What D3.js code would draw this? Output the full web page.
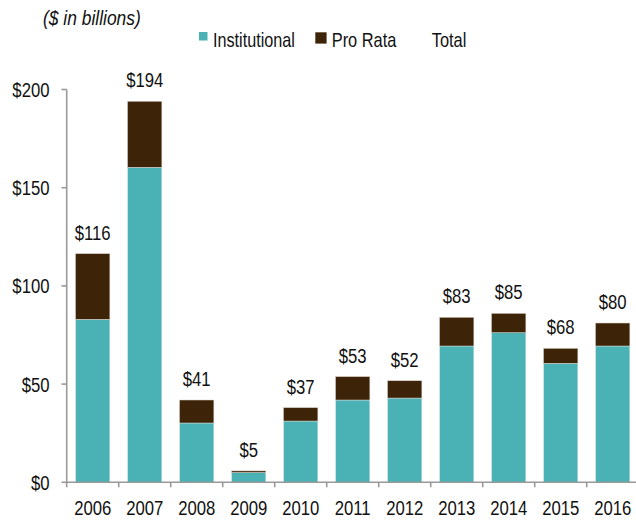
<!DOCTYPE html>
<html><head><meta charset="utf-8">
<script src="https://cdn.jsdelivr.net/npm/d3@7"></script>
<style>body{margin:0;background:#fff}svg{display:block}text{font-family:"Liberation Sans",Arial,sans-serif;fill:#111}</style>
</head><body><div id="c"></div>
<script>
const years = ["2006","2007","2008","2009","2010","2011","2012","2013","2014","2015","2016"];
const institutional = [83.0,160.4,30.2,5.0,31.2,41.9,42.9,69.4,76.2,60.6,69.4];
const proRata = [33.4,33.6,11.7,0.8,6.8,11.9,8.8,14.6,9.8,7.6,11.7];
const totalLabels = ["$116","$194","$41","$5","$37","$53","$52","$83","$85","$68","$80"];
const yTicks = [0,50,100,150,200];
const yTickLabels = ["$0","$50","$100","$150","$200"];

const W=636,H=523;
const teal="#4AB1B4", brown="#3D2408", axisCol="#999";
const svg=d3.select("#c").append("svg").attr("width",W).attr("height",H);
const x=d3.scaleBand().domain(years).range([66.7,638.7]).paddingInner(0.34).paddingOuter(0.17);
const y=d3.scaleLinear().domain([0,200]).range([482.3,89.5]);
const SX=0.815, FS=20.5;
function txt(t,px,py,anchor,opts={}){
  const e=svg.append("text").attr("transform",`translate(${px},${py}) scale(${opts.sx||SX},1)`)
    .attr("text-anchor",anchor).style("font-size",(opts.fs||FS)+"px").text(t);
  if(opts.italic) e.style("font-style","italic");
  return e;
}
// bars
const g=svg.append("g");
years.forEach((yr,i)=>{
  const a=institutional[i], b=proRata[i];
  g.append("rect").attr("x",x(yr)).attr("width",x.bandwidth()).attr("y",y(a)).attr("height",y(0)-y(a))
    .attr("fill",teal).attr("stroke","#e6f2f2").attr("stroke-width",0.5);
  g.append("rect").attr("x",x(yr)).attr("width",x.bandwidth()).attr("y",y(a+b)).attr("height",y(a)-y(a+b))
    .attr("fill",brown).attr("stroke","#d8d0c8").attr("stroke-width",0.5);
  txt(totalLabels[i], x(yr)+x.bandwidth()/2, y(a+b)-14, "middle");
});
// y axis
svg.append("line").attr("x1",66.7).attr("x2",66.7).attr("y1",y(200)).attr("y2",y(0)).attr("stroke",axisCol).attr("stroke-width",1.6);
yTicks.forEach((v,i)=>{
  svg.append("line").attr("x1",61.5).attr("x2",66.7).attr("y1",y(v)).attr("y2",y(v)).attr("stroke",axisCol).attr("stroke-width",1.6);
  txt(yTickLabels[i],49.5,y(v)+7.5,"end");
});
// x axis
const gap=x.step()-x.bandwidth();
svg.append("line").attr("x1",66).attr("x2",W).attr("y1",y(0)).attr("y2",y(0)).attr("stroke",axisCol).attr("stroke-width",1.6);
years.forEach(yr=>{
  const bx=x(yr)-gap/2;
  svg.append("line").attr("x1",bx).attr("x2",bx).attr("y1",y(0)).attr("y2",y(0)+5).attr("stroke",axisCol).attr("stroke-width",1.6);
  txt(yr,x(yr)+x.bandwidth()/2,514.5,"middle");
});
// title
txt("($ in billions)",43,24.5,"start",{italic:true,sx:0.85});
// legend
svg.append("rect").attr("x",199).attr("y",32).attr("width",8.5).attr("height",8.5).attr("fill",teal);
txt("Institutional",213,46.5,"start",{sx:0.79});
svg.append("rect").attr("x",315.3).attr("y",32.3).attr("width",11.3).attr("height",11.3).attr("fill",brown);
txt("Pro Rata",331.7,46.5,"start",{sx:0.8});
txt("Total",431.7,46.5,"start",{sx:0.8});
</script></body></html>
